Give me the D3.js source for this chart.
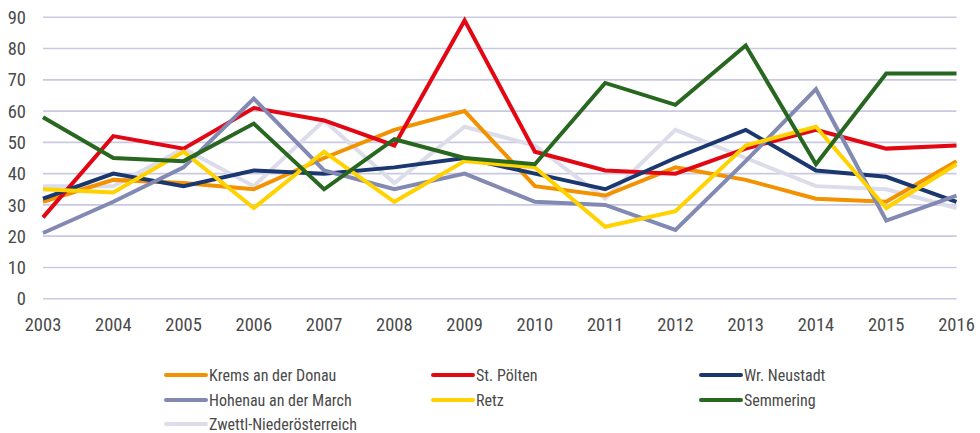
<!DOCTYPE html>
<html>
<head>
<meta charset="utf-8">
<script src="https://cdn.jsdelivr.net/npm/d3@7"></script>
<style>
  body { margin: 0; background: #fff; }
  svg text { font-family: "Liberation Sans Narrow", "Roboto Condensed", "DejaVu Sans Condensed", sans-serif; fill: #4a4a4a; }
</style>
</head>
<body>
<div id="container"></div>
<script>
let w = 980;
let h = 433;

// DATA
let years = [2003, 2004, 2005, 2006, 2007, 2008, 2009, 2010, 2011, 2012, 2013, 2014, 2015, 2016];
let yTicks = [0, 10, 20, 30, 40, 50, 60, 70, 80, 90];

let names = ["Krems an der Donau", "St. Pölten", "Wr. Neustadt", "Hohenau an der March", "Retz", "Semmering", "Zwettl-Niederösterreich"];
let colors = ["#f39200", "#e30613", "#1b3770", "#8289b2", "#ffd200", "#286720", "#dcdcea"];

let krems    = [31, 38, 37, 35, 45, 54, 60, 36, 33, 42, 38, 32, 31, 44];
let stPoelten = [26, 52, 48, 61, 57, 49, 89, 47, 41, 40, 48, 54, 48, 49];
let neustadt = [32, 40, 36, 41, 40, 42, 45, 40, 35, 45, 54, 41, 39, 31];
let hohenau  = [21, 31, 42, 64, 41, 35, 40, 31, 30, 22, 44, 67, 25, 33];
let retz     = [35, 34, 47, 29, 47, 31, 44, 42, 23, 28, 49, 55, 29, 43];
let semmering = [58, 45, 44, 56, 35, 51, 45, 43, 69, 62, 81, 43, 72, 72];
let zwettl   = [36, 36, 48, 36, 57, 37, 55, 49, 32, 54, 45, 36, 35, 29];

let series = [krems, stPoelten, neustadt, hohenau, retz, semmering, zwettl];

let viz = d3.select("#container").append("svg")
    .attr("width", w)
    .attr("height", h)
;

// SCALES
let xScale = d3.scaleLinear().domain([2003, 2016]).range([43, 956.5]);
let yScale = d3.scaleLinear().domain([0, 90]).range([298.7, 17.3]);

// gridlines
viz.selectAll(".grid").data(yTicks).enter()
  .append("line")
    .attr("x1", 43)
    .attr("x2", 956.5)
    .attr("y1", d => yScale(d))
    .attr("y2", d => yScale(d))
    .attr("stroke", "#c9c9e1")
    .attr("stroke-width", 1.6)
;

// y labels
viz.selectAll(".ylab").data(yTicks).enter()
  .append("text")
    .attr("x", 26)
    .attr("y", d => yScale(d))
    .attr("dy", "0.36em")
    .attr("text-anchor", "end")
    .style("font-size", "18.5px")
    .text(d => d)
;

// x labels
viz.selectAll(".xlab").data(years).enter()
  .append("text")
    .attr("x", d => xScale(d))
    .attr("y", 331)
    .attr("text-anchor", "middle")
    .style("font-size", "18.5px")
    .text(d => d)
;

let lineMaker = d3.line()
    .x((d, i) => xScale(years[i]))
    .y(d => yScale(d))
;

// draw lines, last series underneath? keep original order
let order = [6, 0, 1, 2, 3, 4, 5];
order.forEach(function(k){
  viz.append("path")
    .datum(series[k])
    .attr("d", lineMaker)
    .attr("fill", "none")
    .attr("stroke", colors[k])
    .attr("stroke-width", 4)
    .attr("stroke-linejoin", "miter")
});

// LEGEND
let legX = [166, 433, 701];
let legY = [375, 400, 424];
names.forEach(function(n, i){
  let col = i % 3;
  let row = Math.floor(i / 3);
  let g = viz.append("g").attr("transform", "translate(" + legX[col] + "," + legY[row] + ")");
  g.append("line")
    .attr("x1", 0).attr("x2", 40)
    .attr("y1", 0).attr("y2", 0)
    .attr("stroke", colors[i])
    .attr("stroke-width", 4)
    .attr("stroke-linecap", "round");
  g.append("text")
    .attr("x", 43)
    .attr("y", 0)
    .attr("dy", "0.36em")
    .style("font-size", "16px")
    .text(n);
});
</script>
</body>
</html>
